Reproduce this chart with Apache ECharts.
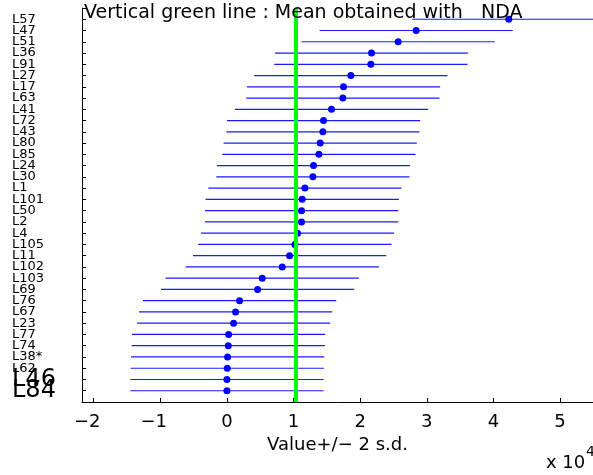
<!DOCTYPE html>
<html>
<head>
<meta charset="utf-8">
<script src="https://cdn.jsdelivr.net/npm/echarts@6/dist/echarts.min.js"></script>
<style>
  html, body { margin: 0; padding: 0; background: #fff; }
  #chart { width: 593px; height: 475px; }
</style>
</head>
<body>
<div id="chart"></div>
<script>
// labs, top to bottom
var labs = ['L57', 'L47', 'L51', 'L36', 'L91', 'L27', 'L17', 'L63', 'L41', 'L72',
    'L43', 'L80', 'L85', 'L24', 'L30', 'L1', 'L101', 'L50', 'L2', 'L4',
    'L105', 'L11', 'L102', 'L103', 'L69', 'L76', 'L67', 'L23', 'L77', 'L74',
    'L38*', 'L62', 'L46', 'L84'];

// values, in units of 10^4
var values = [4.23, 2.84, 2.57, 2.17, 2.16, 1.86, 1.75, 1.74, 1.57, 1.45,
    1.44, 1.40, 1.38, 1.30, 1.29, 1.17, 1.13, 1.12, 1.12, 1.06,
    1.02, 0.94, 0.83, 0.53, 0.46, 0.19, 0.13, 0.10, 0.025, 0.02,
    0.01, 0.005, 0, 0];

// 2 s.d., in units of 10^4
var twoSd = [1.45, 1.45, 1.45, 1.45, 1.45, 1.45, 1.45, 1.45, 1.45, 1.45,
    1.45, 1.45, 1.45, 1.45, 1.45, 1.45, 1.45, 1.45, 1.45, 1.45,
    1.45, 1.45, 1.45, 1.45, 1.45, 1.45, 1.45, 1.45, 1.45, 1.45,
    1.45, 1.45, 1.45, 1.45];

var ndaMean = 1.03;
var xTicks = [-2, -1, 0, 1, 2, 3, 4, 5];
var bigLabs = ['L46', 'L84'];

var FONT = '"DejaVu Sans", Verdana, sans-serif';

var errData = [];
var dotData = [];
labs.forEach(function (name, i) {
    errData.push([values[i] - twoSd[i], values[i] + twoSd[i], i + 1]);
    dotData.push([values[i], i + 1]);
});

function renderErr (params, api) {
    var y = api.value(2);
    var a = api.coord([api.value(0), y]);
    var b = api.coord([api.value(1), y]);
    return {
        type: 'line',
        shape: { x1: a[0], y1: a[1], x2: b[0], y2: b[1] },
        style: { stroke: '#1a1aff', lineWidth: 1.2 }
    };
}

var chart = echarts.init(document.getElementById('chart'));

var option = {
    animation: false,
    backgroundColor: '#fff',
    textStyle: { fontFamily: FONT },
    grid: { left: 82, right: 0, top: 8, bottom: 73 },
    xAxis: {
        type: 'value',
        min: -2.175,
        max: 5.494,
        name: 'Value+/\u2212 2 s.d.',
        nameLocation: 'middle',
        nameGap: 25,
        nameTextStyle: { color: '#000', fontSize: 18, fontFamily: FONT },
        axisLine: { onZero: false, lineStyle: { color: '#000', width: 1 } },
        axisTick: { inside: true, length: 4, customValues: xTicks, lineStyle: { color: '#000' } },
        axisLabel: {
            customValues: xTicks,
            color: '#000',
            fontSize: 18,
            fontFamily: FONT,
            margin: 11,
            // the digit sits on the tick, the minus hangs to its left
            formatter: function (v) {
                return v < 0 ? '{neg|\u2212' + Math.abs(v) + '}' : String(v);
            },
            rich: {
                neg: { fontSize: 18, fontFamily: FONT, color: '#000', padding: [0, 13, 0, 0] }
            }
        },
        splitLine: { show: false }
    },
    yAxis: {
        type: 'value',
        inverse: true,
        min: 0,
        max: 35,
        interval: 1,
        axisLine: { show: true, onZero: false, lineStyle: { color: '#000', width: 1 } },
        axisTick: { show: true, inside: true, length: 4, lineStyle: { color: '#000' } },
        axisLabel: {
            color: '#000',
            fontSize: 13,
            fontFamily: FONT,
            align: 'left',
            margin: 70,
            formatter: function (v) {
                var n = labs[v - 1];
                if (!n) return '';
                return bigLabs.indexOf(n) >= 0 ? '{big|' + n + '}' : n;
            },
            rich: {
                big: { fontSize: 24, fontFamily: FONT, color: '#000' }
            }
        },
        splitLine: { show: false }
    },
    series: [{
        type: 'custom',
        renderItem: renderErr,
        encode: { x: [0, 1], y: 2 },
        clip: true,
        silent: true,
        data: errData
    }, {
        type: 'scatter',
        symbol: 'circle',
        symbolSize: 7,
        itemStyle: { color: '#0000ff', opacity: 1 },
        silent: true,
        data: dotData,
        markLine: {
            silent: true,
            symbol: ['none', 'none'],
            label: { show: false },
            lineStyle: { color: '#00ff00', width: 4, type: 'solid', opacity: 1 },
            data: [{ xAxis: ndaMean }]
        }
    }],
    graphic: [{
        type: 'text',
        z: 100,
        left: 84,
        top: 4,
        style: {
            text: 'Vertical green line : Mean obtained with   NDA',
            font: '19px ' + FONT,
            fill: '#000'
        }
    }, {
        type: 'text',
        z: 100,
        left: 546,
        top: 454,
        style: {
            text: 'x 10',
            font: '18px ' + FONT,
            fill: '#000'
        }
    }, {
        type: 'text',
        z: 100,
        left: 586,
        top: 445,
        style: {
            text: '4',
            font: '14px ' + FONT,
            fill: '#000'
        }
    }]
};

chart.setOption(option);
</script>
</body>
</html>
